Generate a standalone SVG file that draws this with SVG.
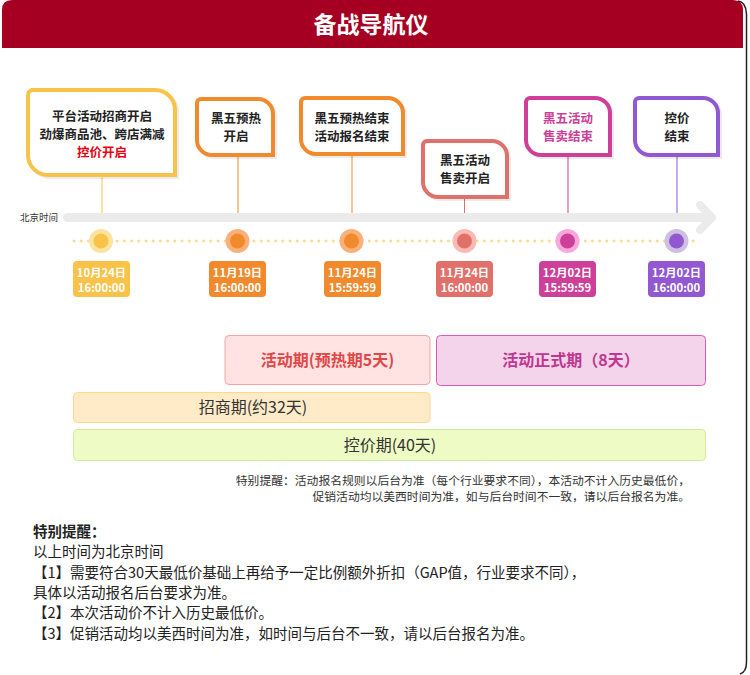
<svg xmlns="http://www.w3.org/2000/svg" width="750" height="675" viewBox="0 0 750 675">
<style>
text{font-family:"Noto Sans CJK SC","Noto Sans",sans-serif;}
.title{font-size:23px;font-weight:bold;fill:#fff;text-anchor:middle;}
.cl{font-size:12.5px;font-weight:bold;fill:#222;text-anchor:middle;}
.co{fill:#fff;stroke-width:4;}
.sh{fill:none;stroke:#000;stroke-opacity:0.08;stroke-width:4;}
.dt{font-size:11.3px;font-weight:bold;fill:#fff;text-anchor:middle;}
.pl{font-size:16px;text-anchor:middle;}
.note{font-size:11.8px;fill:#333;text-anchor:end;}
.tip{font-size:14.5px;fill:#222;}
</style>
<rect width="750" height="675" fill="#fff"/>
<path d="M2 48 V10 Q2 0 12 0 H733 Q743 0 743 10 V48 Z" fill="#A50021"/>
<path d="M738 1 Q746 2 746.5 14 V662 Q746.5 672 740 674" fill="none" stroke="#222" stroke-width="1.5"/>
<text class="title" x="371" y="33">备战导航仪</text>

<g id="timeline">
<rect x="63" y="213" width="648" height="9" rx="4.5" fill="#EBEBEB"/>
<polyline points="700,205 712,217.5 700,230" fill="none" stroke="#EBEBEB" stroke-width="8" stroke-linecap="round" stroke-linejoin="round"/>
<text x="20" y="221" font-size="9.5" fill="#333">北京时间</text>
<line x1="74" y1="241" x2="700" y2="241" stroke="#FDDB8E" stroke-width="3" stroke-linecap="round" stroke-dasharray="0 7.2"/>
</g>

<g id="connectors">
<line x1="102" y1="175" x2="102" y2="213" stroke="#F9C248" stroke-width="1"/>
<line x1="238" y1="155" x2="238" y2="213" stroke="#F08A2C" stroke-width="1"/>
<line x1="352" y1="155" x2="352" y2="213" stroke="#F08A2C" stroke-width="1"/>
<line x1="464.5" y1="197" x2="464.5" y2="213" stroke="#E2706A" stroke-width="1"/>
<line x1="568" y1="155" x2="568" y2="213" stroke="#CD3F98" stroke-width="1"/>
<line x1="677" y1="155" x2="677" y2="213" stroke="#9158D2" stroke-width="1"/>
</g>

<g id="n1">
<path class="sh" d="M33 92 H157 A20 20 0 0 1 177 112 V177 H50 A20 20 0 0 1 30 157 V97 A5 5 0 0 1 35 92 Z"/>
<path class="co" stroke="#F9C248" d="M31 90 H155 A20 20 0 0 1 175 110 V175 H48 A20 20 0 0 1 28 155 V95 A5 5 0 0 1 33 90 Z"/>
<text class="cl" x="102" y="121">平台活动招商开启</text>
<text class="cl" x="102" y="139">劲爆商品池、跨店满减</text>
<text class="cl" x="102" y="157" style="fill:#E60012">控价开启</text>
</g>
<g id="n2">
<path class="sh" d="M203 101 H260 A15 15 0 0 1 275 116 V157 H214 A15 15 0 0 1 199 142 V105 A4 4 0 0 1 203 101 Z"/>
<path class="co" stroke="#F08A2C" d="M201 99 H258 A15 15 0 0 1 273 114 V155 H212 A15 15 0 0 1 197 140 V103 A4 4 0 0 1 201 99 Z"/>
<text class="cl" x="236" y="123">黑五预热</text>
<text class="cl" x="236" y="141">开启</text>
</g>
<g id="n3">
<path class="sh" d="M307 100 H390 A15 15 0 0 1 405 115 V156 H318 A15 15 0 0 1 303 141 V104 A4 4 0 0 1 307 100 Z"/>
<path class="co" stroke="#F08A2C" d="M305 98 H388 A15 15 0 0 1 403 113 V154 H316 A15 15 0 0 1 301 139 V102 A4 4 0 0 1 305 98 Z"/>
<text class="cl" x="352" y="123">黑五预热结束</text>
<text class="cl" x="352" y="141">活动报名结束</text>
</g>
<g id="n4">
<path class="sh" d="M429 143 H494 A15 15 0 0 1 509 158 V199 H440 A15 15 0 0 1 425 184 V147 A4 4 0 0 1 429 143 Z"/>
<path class="co" stroke="#E2706A" d="M427 141 H492 A15 15 0 0 1 507 156 V197 H438 A15 15 0 0 1 423 182 V145 A4 4 0 0 1 427 141 Z"/>
<text class="cl" x="465" y="165">黑五活动</text>
<text class="cl" x="465" y="183">售卖开启</text>
</g>
<g id="n5">
<path class="sh" d="M532 100 H597 A15 15 0 0 1 612 115 V157 H543 A15 15 0 0 1 528 142 V104 A4 4 0 0 1 532 100 Z"/>
<path class="co" stroke="#CD3F98" d="M530 98 H595 A15 15 0 0 1 610 113 V155 H541 A15 15 0 0 1 526 140 V102 A4 4 0 0 1 530 98 Z"/>
<text class="cl" x="568" y="123" style="fill:#CD3F98">黑五活动</text>
<text class="cl" x="568" y="141" style="fill:#CD3F98">售卖结束</text>
</g>
<g id="n6">
<path class="sh" d="M641 100 H705 A15 15 0 0 1 720 115 V157 H652 A15 15 0 0 1 637 142 V104 A4 4 0 0 1 641 100 Z"/>
<path class="co" stroke="#9158D2" d="M639 98 H703 A15 15 0 0 1 718 113 V155 H650 A15 15 0 0 1 635 140 V102 A4 4 0 0 1 639 98 Z"/>
<text class="cl" x="677" y="123">控价</text>
<text class="cl" x="677" y="141">结束</text>
</g>

<g id="d1">
<circle cx="101" cy="241" r="12" fill="#FDE3A0"/><circle cx="101" cy="241" r="7.5" fill="#F9C248"/>
<rect x="73" y="261" width="57" height="36" rx="4" fill="#F9C248"/>
<text class="dt" x="101.5" y="277">10月24日</text><text class="dt" x="101.5" y="292">16:00:00</text>
</g>
<g id="d2">
<circle cx="237.5" cy="241" r="12" fill="#F9B07A"/><circle cx="237.5" cy="241" r="7.5" fill="#F08A2C"/>
<rect x="209" y="261" width="57" height="36" rx="4" fill="#F08A2C"/>
<text class="dt" x="237.5" y="277">11月19日</text><text class="dt" x="237.5" y="292">16:00:00</text>
</g>
<g id="d3">
<circle cx="351.5" cy="241" r="12" fill="#F9B07A"/><circle cx="351.5" cy="241" r="7.5" fill="#F08A2C"/>
<rect x="324" y="261" width="57" height="36" rx="4" fill="#F08A2C"/>
<text class="dt" x="352.5" y="277">11月24日</text><text class="dt" x="352.5" y="292">15:59:59</text>
</g>
<g id="d4">
<circle cx="464.5" cy="241" r="12" fill="#FBBAB5"/><circle cx="464.5" cy="241" r="7.5" fill="#E2706A"/>
<rect x="436" y="261" width="57" height="36" rx="4" fill="#E2706A"/>
<text class="dt" x="464.5" y="277">11月24日</text><text class="dt" x="464.5" y="292">16:00:00</text>
</g>
<g id="d5">
<circle cx="567.5" cy="241" r="12" fill="#F9A8DB"/><circle cx="567.5" cy="241" r="7.5" fill="#CD3F98"/>
<rect x="539" y="261" width="57" height="36" rx="4" fill="#CD3F98"/>
<text class="dt" x="567.5" y="277">12月02日</text><text class="dt" x="567.5" y="292">15:59:59</text>
</g>
<g id="d6">
<circle cx="676.5" cy="241" r="12" fill="#CDC1DF"/><circle cx="676.5" cy="241" r="7.5" fill="#9158D2"/>
<rect x="648" y="261" width="57" height="36" rx="4" fill="#9158D2"/>
<text class="dt" x="676.5" y="277">12月02日</text><text class="dt" x="676.5" y="292">16:00:00</text>
</g>

<g id="p1">
<rect x="225" y="335.5" width="205" height="49" rx="4" fill="#FFE3E3" stroke="#F5A5A5"/>
<text class="pl" x="327.5" y="366" font-size="15.5" font-weight="bold" fill="#E04848">活动期(预热期5天)</text>
</g>
<g id="p2">
<rect x="436.5" y="335.5" width="269" height="50" rx="4" fill="#F3D4EA" stroke="#DC5CB5"/>
<text class="pl" x="571" y="366" font-size="15" font-weight="bold" fill="#C0378F">活动正式期（8天）</text>
</g>
<g id="p3">
<rect x="73.5" y="392.5" width="356.5" height="30" rx="4" fill="#FFEBC7" stroke="#FFD98A"/>
<text class="pl" x="253" y="413" fill="#333">招商期(约32天)</text>
</g>
<g id="p4">
<rect x="73.5" y="429.5" width="632" height="31" rx="4" fill="#EEFBC4" stroke="#D5E8A0"/>
<text class="pl" x="390" y="451" fill="#333">控价期(40天)</text>
</g>

<text class="note" x="690" y="485">特别提醒：活动报名规则以后台为准（每个行业要求不同），本活动不计入历史最低价，</text>
<text class="note" x="690" y="501">促销活动均以美西时间为准，如与后台时间不一致，请以后台报名为准。</text>

<g id="tips">
<text class="tip" x="33" y="537" font-weight="bold">特别提醒：</text>
<text class="tip" x="33" y="557">以上时间为北京时间</text>
<text class="tip" x="33" y="578">【1】需要符合30天最低价基础上再给予一定比例额外折扣（GAP值，行业要求不同），</text>
<text class="tip" x="33" y="598">具体以活动报名后台要求为准。</text>
<text class="tip" x="33" y="618">【2】本次活动价不计入历史最低价。</text>
<text class="tip" x="33" y="639">【3】促销活动均以美西时间为准，如时间与后台不一致，请以后台报名为准。</text>
</g>
</svg>
